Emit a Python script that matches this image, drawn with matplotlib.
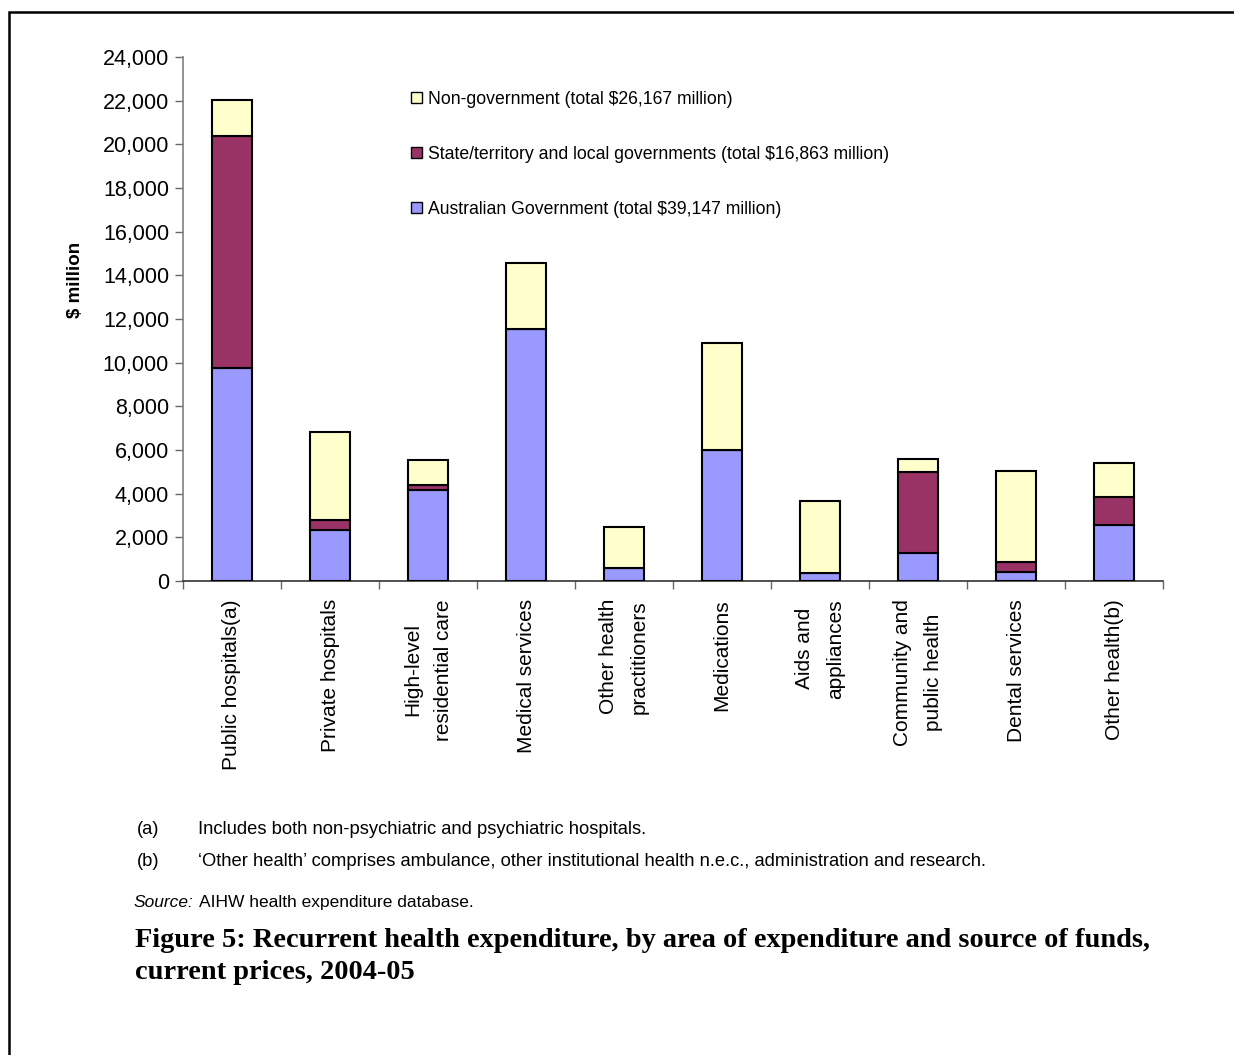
import numpy as np
import matplotlib.pyplot as plt
from matplotlib.patches import Rectangle, Patch

plt.rcParams['font.family'] = ['Liberation Sans', 'DejaVu Sans']

# areas of expenditure (x tick labels)
categories = ['Public hospitals(a)', 'Private hospitals', 'High-level\nresidential care',
              'Medical services', 'Other health\npractitioners', 'Medications',
              'Aids and\nappliances', 'Community and\npublic health', 'Dental services',
              'Other health(b)']

# $ million
australian_gov = [9740, 2330, 4150, 11530, 610, 6020, 350, 1270, 430, 2560]
state_local_gov = [10630, 470, 230, 0, 0, 0, 0, 3740, 460, 1290]
non_gov = [1670, 4030, 1160, 3020, 1860, 4870, 3310, 580, 4160, 1560]

series_labels = ['Australian Government (total $39,147 million)',
                 'State/territory and local governments (total $16,863 million)',
                 'Non-government (total $26,167 million)']
colors = ['#9999FF', '#993366', '#FFFFCC']

yticks = np.arange(0, 24001, 2000)

W, H = 1234, 1055
fig = plt.figure(figsize=(W / 100, H / 100), dpi=100)
ax = fig.add_axes([183 / W, 1 - 581 / H, 980 / W, 524 / H])

x = np.arange(len(categories))
bottom = np.zeros(len(categories))
for vals, col in zip([australian_gov, state_local_gov, non_gov], colors):
    ax.bar(x, vals, width=0.41, bottom=bottom, color=col, edgecolor='black', linewidth=1.5, zorder=3)
    bottom = bottom + np.array(vals)

ax.set_xlim(-0.5, len(categories) - 0.5)
ax.set_ylim(0, 24000)
ax.set_yticks(yticks)
ax.set_yticklabels([f'{v:,}' for v in yticks], fontsize=15.5)
ax.set_xticks(x)
ax.set_xticklabels(categories, rotation=90, fontsize=15, ha='center', va='top',
                   multialignment='center', linespacing=1.8)
ax.tick_params(axis='x', length=0, pad=13)
ax.set_xticks(np.arange(-0.5, len(categories)), minor=True)
ax.tick_params(axis='x', which='minor', length=6, color='#666666', width=1)
ax.tick_params(axis='y', length=6, color='#666666', width=1, pad=4)
for s in ['top', 'right']:
    ax.spines[s].set_visible(False)
ax.spines['left'].set_color('#808080')
ax.spines['bottom'].set_color('#333333')
ax.spines['left'].set_linewidth(1.2)
ax.spines['bottom'].set_linewidth(1.2)
ax.set_ylabel('$ million', fontsize=13.5, fontweight='bold')
ax.yaxis.set_label_coords((84 - 183) / 980, (581 - 280) / 524)

handles = [Patch(facecolor=c, edgecolor='black', linewidth=1) for c in colors][::-1]
fig.legend(handles, series_labels[::-1], loc='upper left', bbox_to_anchor=(404 / W, 1 - 84 / H),
           frameon=False, fontsize=12.7, handlelength=0.6, handleheight=0.6,
           handletextpad=0.35, labelspacing=2.15, borderaxespad=0)

# footnotes and caption
fs = 13.2
fig.text(137 / W, 1 - 829 / H, '(a)', fontsize=fs, va='center')
fig.text(198 / W, 1 - 829 / H, 'Includes both non-psychiatric and psychiatric hospitals.', fontsize=fs, va='center')
fig.text(137 / W, 1 - 861 / H, '(b)', fontsize=fs, va='center')
fig.text(198 / W, 1 - 861 / H,
         '\u2018Other health\u2019 comprises ambulance, other institutional health n.e.c., administration and research.',
         fontsize=fs, va='center')
src = fig.text(134 / W, 1 - 907 / H, 'Source:', fontsize=12.5, style='italic', va='baseline')
fig.canvas.draw()
bb = src.get_window_extent()
fig.text((bb.x1 + 5) / W, 1 - 907 / H, 'AIHW health expenditure database.', fontsize=12.5, va='baseline')

fig.text(135 / W, 1 - 985 / H,
         'Figure 5: Recurrent health expenditure, by area of expenditure and source of funds,\ncurrent prices, 2004-05',
         fontsize=20.4, fontweight='bold', family=['Liberation Serif', 'DejaVu Serif'],
         va='bottom', linespacing=1.35)

# page frame
fig.patches.append(Rectangle((9 / W, -0.01), 1.02, 1 - 12 / H + 0.01, transform=fig.transFigure,
                             fill=False, edgecolor='black', linewidth=1.8))

fig.savefig('out.png', dpi=100)
